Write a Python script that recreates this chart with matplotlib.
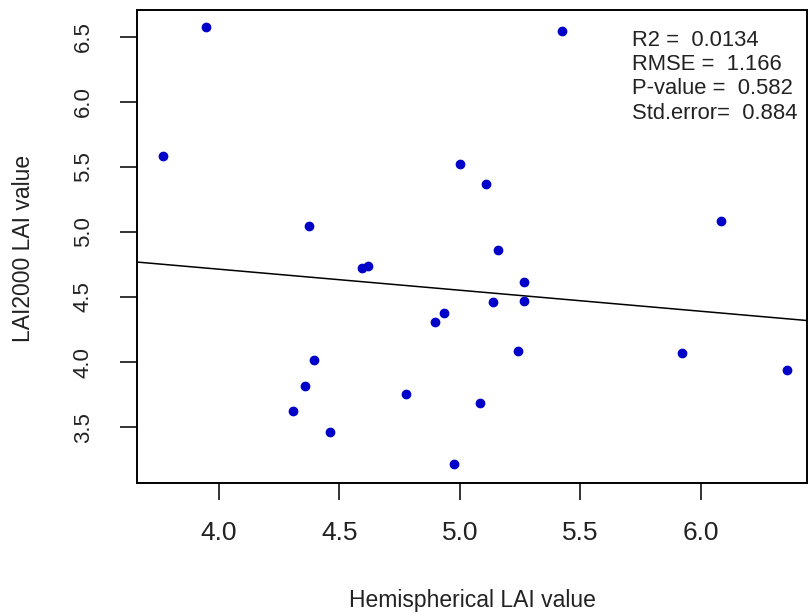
import matplotlib
matplotlib.use("Agg")
import matplotlib.pyplot as plt
import numpy as np

# ---------------------------------------------------------------------------
# Data
# ---------------------------------------------------------------------------
hemi_lai = [3.947, 3.767, 5.424, 4.374, 5.001, 5.109, 6.086, 5.159, 4.595,
            4.620, 5.267, 5.137, 5.267, 4.933, 4.898, 5.243, 4.395, 5.921,
            6.360, 4.358, 4.309, 4.775, 5.085, 4.460, 4.977]
lai2000 = [6.576, 5.581, 6.543, 5.045, 5.524, 5.366, 5.084, 4.859, 4.725,
           4.740, 4.618, 4.459, 4.472, 4.379, 4.310, 4.085, 4.018, 4.072,
           3.939, 3.819, 3.622, 3.752, 3.688, 3.461, 3.220]

# fitted line as drawn (intercept, slope)
fit_coef = [5.359, -0.1614]

stat_names = ["R2 = ", "RMSE = ", "P-value = ", "Std.error= "]
stat_values = ["0.0134", "1.166", "0.582", "0.884"]

x_ticks = [4.0, 4.5, 5.0, 5.5, 6.0]
y_ticks = [3.5, 4.0, 4.5, 5.0, 5.5, 6.0, 6.5]

# ---------------------------------------------------------------------------
# Style
# ---------------------------------------------------------------------------
plt.rcParams.update({
    "font.family": ["Liberation Sans", "DejaVu Sans"],
    "axes.linewidth": 1.4,
    "xtick.major.width": 1.3,
    "ytick.major.width": 1.3,
    "xtick.major.size": 12,
    "ytick.major.size": 12,
    "xtick.color": "#222222",
    "ytick.color": "#222222",
})

W, H = 808, 616
fig = plt.figure(figsize=(W / 100, H / 100), dpi=100, facecolor="white")
left, right, top, bottom = 137, 807, 9.5, 483
ax = fig.add_axes([left / W, 1 - bottom / H, (right - left) / W, (bottom - top) / H])

ax.plot(hemi_lai, lai2000, "o", color="#0000c8", ms=6, mec="#0000c8", zorder=3)

ax.set_xlim(3.6595, 6.4419)
ax.set_ylim(3.0714, 6.708)

xs = np.array(ax.get_xlim())
ax.plot(xs, fit_coef[0] + fit_coef[1] * xs, color="black", lw=1.1, zorder=2)

ax.set_xticks(x_ticks)
ax.set_xticklabels([f"{v:.1f}" for v in x_ticks], fontsize=19, color="#222222")
ax.set_yticks(y_ticks)
ax.set_yticklabels([f"{v:.1f}" for v in y_ticks], fontsize=16, rotation=90,
                   va="center", color="#222222")
ax.tick_params(axis="x", pad=15)
ax.tick_params(axis="y", pad=19)

for sp in ax.spines.values():
    sp.set_color("black")

fig.text(472 / W, 1 - 600 / H, "Hemispherical LAI value", fontsize=16.5,
         ha="center", va="center", color="#222222")
fig.text(24 / W, 1 - 248 / H, "LAI2000 LAI value", fontsize=16.5, rotation=90,
         ha="center", va="center", color="#222222")

for i, (name, val) in enumerate(zip(stat_names, stat_values)):
    fig.text(632 / W, 1 - (40 + i * 24.5) / H, f"{name} {val}", fontsize=15.8,
             ha="left", va="center", color="#222222")

fig.savefig("out.png", dpi=100, facecolor="white")
